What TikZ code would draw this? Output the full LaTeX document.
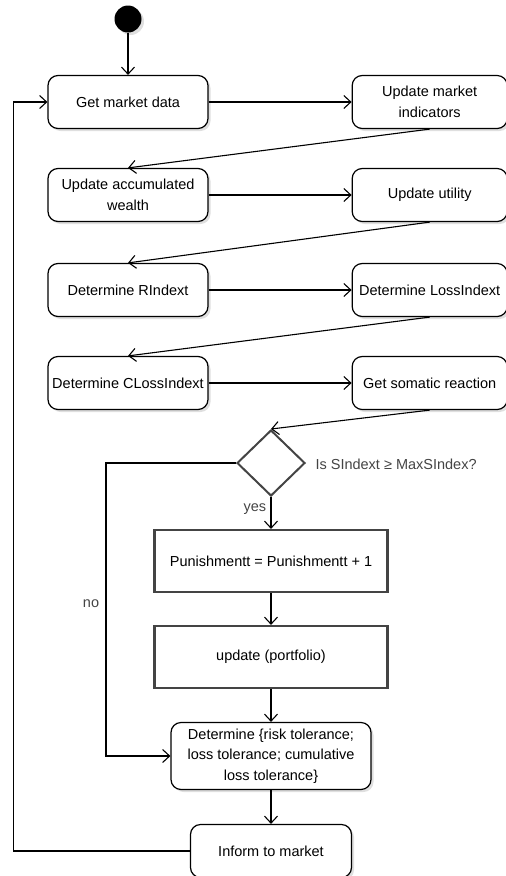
\documentclass[tikz,border=0pt]{standalone}
\usepackage{fontspec}
\setmainfont{Liberation Sans}
\usepackage{tikz}
\usetikzlibrary{shapes.geometric, arrows.meta, positioning, shadows}
\definecolor{boxgray}{RGB}{68,68,68}

\begin{document}
\begin{tikzpicture}[x=1pt, y=-1pt,
    act/.style={draw, rounded corners=10pt, minimum width=160pt,
                minimum height=53pt, fill=white, align=center, line width=1.2pt,
                font=\fontsize{14.5}{20.5}\selectfont,
                drop shadow={opacity=0.25, shadow xshift=2.5pt, shadow yshift=-2.5pt}},
    proc/.style={draw=boxgray, line width=2.2pt, minimum width=233pt,
                 minimum height=62pt, fill=white, align=center,
                 font=\fontsize{14.5}{20}\selectfont},
    dec/.style={diamond, draw=boxgray, line width=2pt, minimum width=68pt,
                minimum height=66pt, inner sep=0pt, fill=white},
    arr/.style={-{Straight Barb[length=7pt, width=13pt]}, line width=1.1pt},
    lbl/.style={text=boxgray, font=\fontsize{14.5}{17}\selectfont}
]
    \useasboundingbox (0,0) rectangle (506,876);

    \node[circle, fill=black, minimum size=27pt, inner sep=0pt,
          drop shadow={opacity=0.25, shadow xshift=2.5pt, shadow yshift=-2.5pt}] (start) at (128,19) {};

    \node[act] (market) at (128,102) {Get market data};
    \node[act, minimum width=155pt, right=143pt of market] (indicators) {Update market\\indicators};

    \node[act] (wealth) at (128,195) {Update accumulated\\wealth};
    \node[act, minimum width=155pt, right=143pt of wealth] (utility) {Update utility};

    \node[act] (rindex) at (128,290) {Determine RIndext};
    \node[act, minimum width=155pt, inner xsep=1pt, right=143pt of rindex] (lossidx) {Determine LossIndext};

    \node[act, inner xsep=1pt] (clossidx) at (128,383) {Determine CLossIndext};
    \node[act, minimum width=155pt, right=143pt of clossidx] (somatic) {Get somatic reaction};

    \node[dec] (check) at (271,463) {};
    \node[lbl, anchor=west] (question) at (312,464) {Is SIndext ≥ MaxSIndex?};

    \node[proc] (punish) at (271,561) {Punishmentt = Punishmentt + 1};
    \node[proc] (portfolio) at (271,657) {update (portfolio)};

    \node[act, minimum width=200pt, minimum height=67pt] (tolerance) at (271,756)
        {Determine \{risk tolerance;\\loss tolerance; cumulative\\loss tolerance\}};
    \node[act, minimum width=161pt] (inform) at (271,851) {Inform to market};

    \draw[arr] (start) -- (market);
    \draw[arr] (market) -- (indicators);
    \draw[arr] (indicators.south) -- (wealth.north);
    \draw[arr] (wealth) -- (utility);
    \draw[arr] (utility.south) -- (rindex.north);
    \draw[arr] (rindex) -- (lossidx);
    \draw[arr] (lossidx.south) -- (clossidx.north);
    \draw[arr] (clossidx) -- (somatic);
    \draw[arr] (somatic.south) -- (check.north);

    \draw[arr] (check) -- node[lbl, left, xshift=-1pt, pos=0.38] {yes} (punish);
    \draw[arr] (punish) -- (portfolio);
    \draw[arr] (portfolio) -- (tolerance);
    \draw[arr] (tolerance) -- (inform);

    \draw[arr] (check.west) -- ++(-130,0) |- node[lbl, left, pos=0.24, xshift=-3pt] {no} (tolerance.west);
    \draw[arr] (inform.west) -- ++(-176,0) |- (market.west);
\end{tikzpicture}
\end{document}
